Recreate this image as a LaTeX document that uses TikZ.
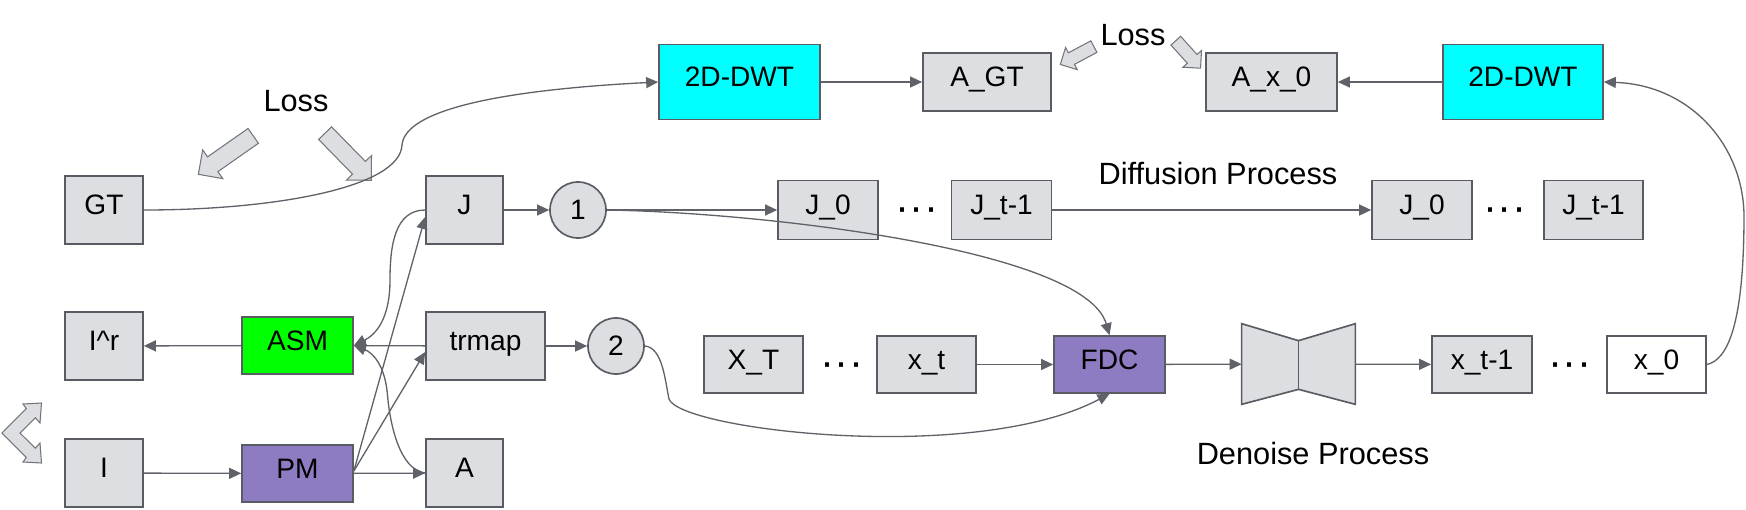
\documentclass[tikz,border=0pt]{standalone}
\usepackage{fontspec}
\setmainfont{Liberation Sans}
\usepackage{tikz}
\usetikzlibrary{arrows.meta, positioning, calc, shapes.arrows}
\definecolor{grisfondo}{RGB}{221, 222, 225}
\definecolor{grisborde}{RGB}{89, 93, 99}
\definecolor{grisflecha}{RGB}{95, 99, 105}
\definecolor{cian}{RGB}{0, 255, 255}
\definecolor{verde}{RGB}{0, 255, 0}
\definecolor{morado}{RGB}{142, 124, 195}

\begin{document}
\begin{tikzpicture}[
    modulo/.style={
        rectangle,
        fill=grisfondo,
        draw=grisborde,
        line width=0.95pt,
        minimum width=#1,
        minimum height=1.36cm,
        inner sep=0pt,
        text height=0.75em,
        text depth=0.2em,
        font=\fontsize{16}{19}\selectfont
    },
    modulo/.default=1.56cm,
    paso/.style={
        circle,
        fill=grisfondo,
        draw=grisborde,
        line width=0.95pt,
        minimum size=1.12cm,
        inner sep=0pt,
        font=\fontsize{16}{19}\selectfont
    },
    rotulo/.style={inner sep=0pt, font=\fontsize{17.5}{21}\selectfont},
    puntos/.style={inner sep=0pt, yshift=-0.1cm, font=\fontsize{24}{24}\selectfont},
    flecha/.style={-{Triangle[length=0.24cm, width=0.22cm]}, draw=grisflecha, line width=0.75pt},
    flechagorda/.style={
        single arrow,
        fill=grisfondo,
        draw=grisborde!85,
        line width=0.6pt,
        inner sep=0pt,
        inner ysep=#1,
        single arrow head extend=#1
    }
]
    \useasboundingbox (0,0) rectangle (34.92,-10.18);

    \node[modulo] (gt) at (2.08,-4.2) {GT};
    \node[modulo] (ir) at (2.08,-6.92) {I\textasciicircum r};
    \node[modulo] (i) at (2.08,-9.46) {I};
    \node[modulo=2.22cm, minimum height=1.14cm, fill=verde] (asm) at (5.95,-6.91) {ASM};
    \node[modulo=2.22cm, minimum height=1.14cm, fill=morado] (pm) at (5.95,-9.47) {PM};
    \node[modulo=1.54cm] (j) at (9.29,-4.2) {J};
    \node[modulo=2.38cm] (trmap) at (9.71,-6.92) {trmap};
    \node[modulo=1.54cm] (a) at (9.29,-9.46) {A};
    \node[paso] (uno) at (11.56,-4.2) {1};
    \node[paso] (dos) at (12.32,-6.92) {2};

    \node[modulo=3.22cm, minimum height=1.5cm, fill=cian] (dwta) at (14.79,-1.64) {2D-DWT};
    \node[modulo=2.56cm, minimum height=1.16cm] (agt) at (19.74,-1.64) {A\_GT};
    \node[modulo=2.62cm, minimum height=1.16cm] (ax) at (25.43,-1.64) {A\_x\_0};
    \node[modulo=3.2cm, minimum height=1.5cm, fill=cian] (dwtb) at (30.46,-1.64) {2D-DWT};

    \node[rotulo] (lossa) at (5.92,-2.02) {Loss};
    \node[rotulo] (lossb) at (22.66,-0.7) {Loss};
    \node[rotulo] (difusion) at (24.36,-3.48) {Diffusion Process};
    \node[rotulo] (denoise) at (26.26,-9.06) {Denoise Process};

    \node[modulo=2cm, minimum height=1.18cm] (jcero) at (16.56,-4.2) {J\_0};
    \node[puntos] (pja) at (18.34,-4.2) {···};
    \node[modulo=2cm, minimum height=1.18cm] (jt) at (20.03,-4.2) {J\_t-1};
    \node[modulo=2cm, minimum height=1.18cm] (jcerob) at (28.44,-4.2) {J\_0};
    \node[puntos] (pjb) at (30.1,-4.2) {···};
    \node[modulo=1.98cm, minimum height=1.18cm] (jtb) at (31.87,-4.2) {J\_t-1};

    \node[modulo=1.98cm, minimum height=1.14cm] (xT) at (15.07,-7.29) {X\_T};
    \node[puntos] (pxa) at (16.84,-7.29) {···};
    \node[modulo=1.98cm, minimum height=1.14cm] (xt) at (18.53,-7.29) {x\_t};
    \node[modulo=2.22cm, minimum height=1.14cm, fill=morado] (fdc) at (22.19,-7.29) {FDC};
    \node[minimum width=2.26cm, minimum height=1.6cm, inner sep=0pt] (unet) at (25.97,-7.28) {};
    \node[modulo=2cm, minimum height=1.14cm] (xtm) at (29.64,-7.29) {x\_t-1};
    \node[puntos] (pxb) at (31.4,-7.29) {···};
    \node[modulo=1.98cm, minimum height=1.14cm, fill=white] (xcero) at (33.13,-7.29) {x\_0};

    \filldraw[fill=grisfondo, draw=grisborde, line width=0.95pt] (unet.north west) -- ($(unet.north)+(0,-0.34)$) -- (unet.north east) -- (unet.south east) -- ($(unet.south)+(0,0.3)$) -- (unet.south west) -- cycle;
    \draw[grisborde, line width=0.95pt] ($(unet.north)+(0,-0.34)$) -- ($(unet.south)+(0,0.3)$);

    \node[flechagorda=0.17cm, rotate=215, minimum height=1.34cm] (lossizq) at (4.59,-3.05) {};
    \node[flechagorda=0.17cm, rotate=-45.6, minimum height=1.32cm] (lossder) at (6.9,-3.07) {};
    \node[flechagorda=0.12cm, rotate=208, minimum height=0.76cm] (lossgt) at (21.6,-1.08) {};
    \node[flechagorda=0.12cm, rotate=-48, minimum height=0.74cm] (lossx) at (23.72,-1.04) {};

    \filldraw[fill=grisfondo, draw=grisborde!85, line width=0.6pt] (0.04,-8.66) -- (0.526,-8.17) -- (0.46,-8.08) -- (0.83,-8.06) -- (0.8,-8.46) -- (0.706,-8.355) -- (0.4,-8.66) -- (0.706,-8.965) -- (0.8,-8.86) -- (0.83,-9.26) -- (0.46,-9.24) -- (0.526,-9.15) -- cycle;

    \draw[flecha] (i) -- (pm);
    \draw[flecha] (asm) -- (ir);
    \draw[flecha] (pm) -- (a);
    \draw[flecha] ([yshift=0.05cm]pm.east) -- ([yshift=-0.14cm]j.west);
    \draw[flecha] ([yshift=0.05cm]pm.east) -- ([yshift=-0.12cm]trmap.west);
    \draw[flecha] (trmap) -- (asm);
    \draw[flecha] (j.west) .. controls (7.9,-4.2) and (7.8,-4.9) .. (7.8,-5.6) .. controls (7.8,-6.4) and (7.5,-6.7) .. (asm.east);
    \draw[flecha] (a.west) .. controls (8.0,-9.4) and (7.8,-8.5) .. (7.75,-7.9) .. controls (7.7,-7.3) and (7.45,-7.05) .. (asm.east);
    \draw[flecha] (j) -- (uno);
    \draw[flecha] (uno) -- (jcero);
    \draw[flecha] (uno.east) .. controls (15.3,-4.25) and (21.7,-5.0) .. (fdc.north);
    \draw[flecha] (trmap) -- (dos);
    \draw[flecha] (dos.east) .. controls (13.25,-6.95) and (13.3,-7.6) .. (13.38,-7.98) .. controls (13.6,-8.6) and (19.5,-9.3) .. (fdc.south);
    \draw[flecha] (gt.east) .. controls (5.5,-4.2) and (8.0,-3.75) .. (8.04,-2.9) .. controls (8.1,-2.2) and (10.0,-1.8) .. (dwta.west);
    \draw[flecha] (dwta) -- (agt);
    \draw[flecha] (dwtb) -- (ax);
    \draw[flecha] (xcero.east) .. controls (34.55,-7.2) and (34.88,-6.5) .. (34.88,-4.3) .. controls (34.86,-2.9) and (33.8,-1.7) .. (dwtb.east);
    \draw[flecha] (jt) -- (jcerob);
    \draw[flecha] (xt) -- (fdc);
    \draw[flecha] (fdc) -- (unet);
    \draw[flecha] (unet) -- (xtm);
\end{tikzpicture}
\end{document}
